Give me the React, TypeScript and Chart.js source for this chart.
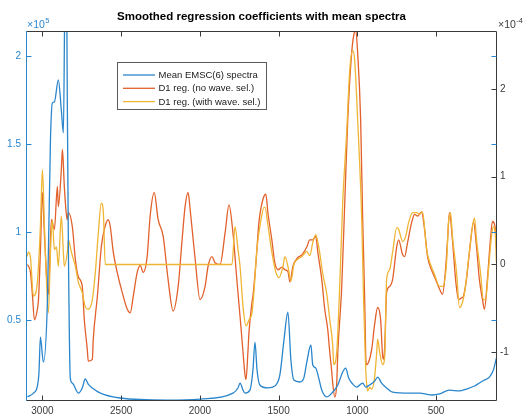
import React, { useEffect, useRef } from "react";
import { Chart, registerables } from "chart.js";

Chart.register(...registerables);

const TITLE = "Smoothed regression coefficients with mean spectra";
const LEGEND_LABELS = [
  "Mean EMSC(6) spectra",
  "D1 reg. (no wave. sel.)",
  "D1 reg. (with wave. sel.)",
];
const X_TICKS = [3000, 2500, 2000, 1500, 1000, 500];
const LEFT_TICKS = [0.5, 1, 1.5, 2];
const RIGHT_TICKS = [-1, 0, 1, 2];
const LEFT_EXP = "5";
const RIGHT_EXP = "-4";

// Mean spectrum (left axis, x10^5)
const meanWave = [3095, 3057, 3032, 3022, 3013, 2994, 2968, 2949, 2937, 2924, 2899, 2880, 2867, 2858, 2851, 2845, 2842, 2835, 2823, 2810, 2772, 2747, 2728, 2709, 2683, 2632, 2506, 2208, 1999, 1790, 1758, 1745, 1726, 1714, 1682, 1663, 1650, 1637, 1619, 1568, 1524, 1492, 1466, 1441, 1422, 1403, 1365, 1340, 1321, 1295, 1283, 1264, 1245, 1226, 1194, 1156, 1124, 1093, 1074, 1055, 1029, 1004, 966, 947, 922, 890, 871, 846, 814, 776, 668, 605, 523, 478, 415, 352, 307, 256, 225, 193, 161, 136, 117];
const meanVal = [0.063, 0.085, 0.125, 0.2, 0.403, 0.261, 0.614, 1.523, 1.733, 1.739, 1.864, 1.693, 1.563, 2.3, 2.6, 2.2, 1.75, 0.898, 0.17, 0.142, 0.085, 0.114, 0.165, 0.136, 0.114, 0.085, 0.057, 0.045, 0.051, 0.085, 0.114, 0.142, 0.102, 0.085, 0.102, 0.216, 0.375, 0.216, 0.131, 0.114, 0.125, 0.188, 0.386, 0.545, 0.273, 0.159, 0.148, 0.17, 0.261, 0.358, 0.244, 0.227, 0.17, 0.102, 0.063, 0.091, 0.131, 0.205, 0.227, 0.17, 0.136, 0.119, 0.142, 0.119, 0.131, 0.153, 0.176, 0.142, 0.114, 0.091, 0.085, 0.085, 0.074, 0.08, 0.102, 0.097, 0.108, 0.125, 0.142, 0.159, 0.176, 0.216, 0.284];

// D1 regression, no wavenumber selection (right axis, x10^-4)
const noSelWave = [3095, 3076, 3063, 3051, 3032, 3025, 3013, 3000, 2987, 2968, 2962, 2943, 2924, 2905, 2899, 2880, 2873, 2861, 2848, 2842, 2835, 2810, 2791, 2772, 2747, 2734, 2715, 2709, 2683, 2677, 2651, 2626, 2607, 2582, 2569, 2550, 2525, 2493, 2461, 2442, 2423, 2398, 2379, 2360, 2335, 2316, 2290, 2265, 2233, 2202, 2170, 2138, 2113, 2094, 2075, 2062, 2030, 1999, 1967, 1948, 1923, 1904, 1872, 1840, 1815, 1790, 1764, 1745, 1726, 1714, 1707, 1695, 1688, 1669, 1663, 1644, 1625, 1600, 1581, 1568, 1543, 1524, 1504, 1479, 1460, 1441, 1428, 1409, 1378, 1352, 1321, 1302, 1283, 1264, 1251, 1226, 1207, 1188, 1175, 1162, 1156, 1143, 1131, 1124, 1099, 1080, 1061, 1036, 1023, 1010, 998, 979, 966, 953, 947, 941, 928, 909, 890, 871, 852, 839, 833, 826, 814, 795, 776, 750, 738, 712, 700, 681, 655, 636, 617, 592, 573, 554, 529, 503, 478, 459, 440, 427, 415, 396, 376, 357, 338, 326, 307, 288, 262, 243, 225, 205, 193, 174, 155, 142, 123, 117];
const noSelVal = [0, -0.09, -0.36, -0.63, -0.51, -0.4, 0.14, 0.82, 0.32, -0.28, -0.34, 0.51, 0.4, 0.89, 0.66, 1.08, 1.31, 0.89, 0.57, 0.51, 0.59, 0.43, 0.06, -0.14, -0.25, -0.63, -0.97, -1.1, -1.08, -0.85, -0.36, 0.2, 0.4, 0.51, 0.43, 0.14, -0.09, -0.32, -0.51, -0.55, -0.36, -0.09, -0.01, -0.09, 0.09, 0.55, 0.82, 0.51, 0.32, -0.17, -0.53, -0.25, 0.28, 0.66, 0.82, 0.63, 0.06, -0.4, -0.25, -0.02, 0.09, 0.02, 0, 0.36, 0.68, 0.36, -0.2, -0.59, -1, -1.25, -1.31, -1, -0.77, -0.43, -0.36, 0.02, 0.48, 0.74, 0.8, 0.59, 0.28, 0.02, -0.06, -0.03, -0.06, -0.08, -0.2, -0.02, 0.08, 0.11, 0.2, 0.28, 0.28, 0.32, 0.14, -0.17, -0.51, -0.74, -1, -1.23, -1.36, -1.51, -1.36, -1, -0.25, 0.7, 1.65, 2.41, 2.61, 2.67, 2.41, 1.65, 0.51, -0.43, -1.02, -1.14, -1.11, -0.97, -0.68, -0.49, -0.63, -1.05, -1.08, -0.93, -0.32, -0.25, -0.17, 0.2, 0.28, 0.11, 0.09, 0.25, 0.48, 0.57, 0.55, 0.6, 0.4, 0.09, -0.06, -0.17, -0.28, -0.34, -0.06, 0.28, 0.59, 0.28, -0.17, -0.4, -0.38, -0.36, -0.17, 0.14, 0.48, 0.2, -0.17, -0.4, -0.51, -0.17, 0.28, 0.49, 0.4, 0.19];

// D1 regression, with wavenumber selection (right axis, x10^-4)
const selWave = [3098, 3089, 3076, 3057, 3032, 3013, 3000, 2987, 2962, 2949, 2937, 2924, 2911, 2899, 2880, 2867, 2861, 2842, 2835, 2816, 2791, 2772, 2747, 2728, 2709, 2683, 2664, 2645, 2626, 2613, 2601, 1796, 1777, 1758, 1745, 1726, 1707, 1688, 1669, 1657, 1638, 1612, 1593, 1587, 1568, 1543, 1517, 1498, 1473, 1460, 1441, 1422, 1403, 1378, 1352, 1321, 1302, 1283, 1264, 1245, 1219, 1194, 1175, 1156, 1150, 1131, 1112, 1093, 1067, 1048, 1029, 1017, 998, 972, 960, 947, 941, 934, 922, 909, 890, 877, 871, 858, 839, 826, 814, 795, 776, 750, 738, 712, 693, 674, 649, 624, 605, 586, 560, 535, 510, 478, 459, 434, 421, 408, 396, 370, 351, 332, 313, 294, 269, 256, 243, 218, 199, 186, 167, 148, 136, 123, 117];
const selVal = [0.09, 0.14, 0.08, -0.36, -0.2, 0.43, 1.08, 0.43, -0.55, 0.14, 0.51, 0.17, 0.2, -0.02, 0.55, 0.14, -0.02, 0.14, 0.28, 0.14, -0.02, -0.2, -0.32, -0.48, -0.51, -0.4, -0.09, 0.36, 0.7, 0.59, 0, 0, 0.43, 0.17, -0.02, -0.48, -0.7, -0.63, -0.55, -0.32, 0.17, 0.51, 0.65, 0.65, 0.45, 0.14, -0.09, -0.15, -0.03, 0.09, -0.02, -0.19, 0, 0.06, 0.09, 0.15, 0.1, 0.25, 0.34, 0.2, -0.11, -0.34, -0.63, -0.93, -1.14, -1, -0.25, 0.7, 1.53, 2.22, 2.44, 2.33, 1.65, 0.51, -0.43, -1.19, -1.36, -1.44, -1.4, -1.42, -1.28, -1, -0.85, -1, -1.14, -1.05, -0.17, -0.06, 0.14, 0.42, 0.4, 0.26, 0.32, 0.48, 0.59, 0.59, 0.57, 0.6, 0.17, 0, -0.11, -0.25, -0.25, 0, 0.48, 0.59, 0.32, -0.09, -0.49, -0.43, -0.25, 0.06, 0.43, 0.53, 0.28, -0.09, -0.4, -0.4, -0.06, 0.32, 0.43, 0.32, 0.03];

const FONT = "'Liberation Sans', Arial, Helvetica, sans-serif";
const BLUE = "#2a86cc";
const RED = "#e2602b";
const YELLOW = "#efb534";
const AXIS_GRAY = "#3a3a3a";
const TICK_LEN = 5;

const toPoints = (xs: number[], ys: number[]) => xs.map((x, i) => ({ x, y: ys[i] }));

const decorPlugin = {
  id: "decor",
  afterDatasetsDraw(chart: any) {
    const { ctx, chartArea: ca, scales } = chart;
    const sx = scales.x;
    const yl = scales.yL;
    const yr = scales.yR;
    ctx.save();
    ctx.lineWidth = 1;
    const L = Math.round(ca.left) - 0.5;
    const R = Math.round(ca.right) - 0.5;
    const T = Math.round(ca.top) + 0.5;
    const B = Math.round(ca.bottom) - 0.5;

    // axes box
    ctx.strokeStyle = AXIS_GRAY;
    ctx.beginPath();
    ctx.moveTo(L, T);
    ctx.lineTo(R, T);
    ctx.lineTo(R, B);
    ctx.lineTo(L, B);
    ctx.stroke();
    ctx.strokeStyle = BLUE;
    ctx.beginPath();
    ctx.moveTo(L, T - 0.5);
    ctx.lineTo(L, B + 0.5);
    ctx.stroke();

    // x ticks (bottom and top, inward)
    ctx.strokeStyle = AXIS_GRAY;
    ctx.beginPath();
    X_TICKS.forEach((v) => {
      const px = Math.round(sx.getPixelForValue(v)) + 0.5;
      ctx.moveTo(px, B);
      ctx.lineTo(px, B - TICK_LEN);
      ctx.moveTo(px, T);
      ctx.lineTo(px, T + TICK_LEN);
    });
    ctx.stroke();

    // left ticks (blue) on left side and mirrored on right side
    ctx.strokeStyle = BLUE;
    ctx.beginPath();
    LEFT_TICKS.forEach((v) => {
      const py = Math.round(yl.getPixelForValue(v)) + 0.5;
      ctx.moveTo(L, py);
      ctx.lineTo(L + TICK_LEN, py);
      ctx.moveTo(R, py);
      ctx.lineTo(R - TICK_LEN, py);
    });
    ctx.stroke();

    // right ticks (gray)
    ctx.strokeStyle = AXIS_GRAY;
    ctx.beginPath();
    RIGHT_TICKS.forEach((v) => {
      const py = Math.round(yr.getPixelForValue(v)) + 0.5;
      ctx.moveTo(R, py);
      ctx.lineTo(R - TICK_LEN, py);
    });
    ctx.stroke();

    // exponent labels
    ctx.textBaseline = "alphabetic";
    ctx.textAlign = "left";
    ctx.fillStyle = BLUE;
    ctx.font = `10.5px ${FONT}`;
    ctx.fillText("\u00d710", ca.left, ca.top - 3.5);
    let w = ctx.measureText("\u00d710").width;
    ctx.font = `7.5px ${FONT}`;
    ctx.fillText(LEFT_EXP, ca.left + w + 0.5, ca.top - 8);

    ctx.fillStyle = AXIS_GRAY;
    ctx.font = `10.5px ${FONT}`;
    ctx.fillText("\u00d710", ca.right + 1, ca.top - 3.5);
    w = ctx.measureText("\u00d710").width;
    ctx.font = `7.5px ${FONT}`;
    ctx.fillText(RIGHT_EXP, ca.right + 1 + w + 0.5, ca.top - 8);

    // legend
    const lx = 117.5;
    const ly = 62.5;
    const lw = 149;
    const lh = 47;
    ctx.fillStyle = "#ffffff";
    ctx.fillRect(lx, ly, lw, lh);
    ctx.lineWidth = 1;
    ctx.strokeStyle = "#5a5a5a";
    ctx.strokeRect(lx, ly, lw, lh);
    const colors = [BLUE, RED, YELLOW];
    ctx.font = `9.5px ${FONT}`;
    ctx.textBaseline = "middle";
    LEGEND_LABELS.forEach((label, i) => {
      const y = 75 + i * 13.3;
      ctx.strokeStyle = colors[i];
      ctx.lineWidth = 1.3;
      ctx.beginPath();
      ctx.moveTo(123, y);
      ctx.lineTo(155, y);
      ctx.stroke();
      ctx.fillStyle = "#1a1a1a";
      ctx.fillText(label, 158.5, y + 0.5);
    });
    ctx.restore();
  },
};

export default function App() {
  const canvasRef = useRef<HTMLCanvasElement | null>(null);

  useEffect(() => {
    const canvas = canvasRef.current;
    if (!canvas) return;
    const chart = new Chart(canvas, {
      type: "line",
      data: {
        datasets: [
          {
            label: LEGEND_LABELS[0],
            data: toPoints(meanWave, meanVal),
            borderColor: BLUE,
            borderWidth: 1.3,
            pointRadius: 0,
            cubicInterpolationMode: "monotone",
            yAxisID: "yL",
            order: 0,
          },
          {
            label: LEGEND_LABELS[1],
            data: toPoints(noSelWave, noSelVal),
            borderColor: RED,
            borderWidth: 1.3,
            pointRadius: 0,
            cubicInterpolationMode: "monotone",
            yAxisID: "yR",
            order: 2,
          },
          {
            label: LEGEND_LABELS[2],
            data: toPoints(selWave, selVal),
            borderColor: YELLOW,
            borderWidth: 1.3,
            pointRadius: 0,
            cubicInterpolationMode: "monotone",
            yAxisID: "yR",
            order: 1,
          },
        ],
      },
      options: {
        responsive: false,
        animation: false,
        devicePixelRatio: 1,
        layout: { padding: 0 },
        plugins: {
          legend: { display: false },
          tooltip: { enabled: false },
          title: {
            display: true,
            text: TITLE,
            color: "#000000",
            font: { family: FONT, size: 11.5, weight: "bold" },
            padding: { top: 9.6, bottom: 7.6 },
          },
        },
        scales: {
          x: {
            type: "linear",
            reverse: true,
            min: 113,
            max: 3098,
            grid: { display: false, drawTicks: false, tickLength: 0 },
            border: { display: false },
            afterBuildTicks: (s: any) => {
              s.ticks = X_TICKS.map((value) => ({ value }));
            },
            afterFit: (s: any) => {
              s.height = 15;
            },
            ticks: {
              color: AXIS_GRAY,
              font: { family: FONT, size: 10 },
              padding: 4.5,
              maxRotation: 0,
              autoSkip: false,
              callback: (v: any) => String(v),
            },
          },
          yL: {
            type: "linear",
            position: "left",
            min: 0.04,
            max: 2.142,
            grid: { display: false, drawTicks: false, tickLength: 0 },
            border: { display: false },
            afterBuildTicks: (s: any) => {
              s.ticks = LEFT_TICKS.map((value) => ({ value }));
            },
            afterFit: (s: any) => {
              s.width = 27;
            },
            ticks: {
              color: BLUE,
              font: { family: FONT, size: 10 },
              padding: 6,
              callback: (v: any) => String(v),
            },
          },
          yR: {
            type: "linear",
            position: "right",
            min: -1.555,
            max: 2.66,
            grid: { display: false, drawTicks: false, tickLength: 0 },
            border: { display: false },
            afterBuildTicks: (s: any) => {
              s.ticks = RIGHT_TICKS.map((value) => ({ value }));
            },
            afterFit: (s: any) => {
              s.width = 26;
            },
            ticks: {
              color: AXIS_GRAY,
              font: { family: FONT, size: 10 },
              padding: 3,
              callback: (v: any) => String(v),
            },
          },
        },
      },
      plugins: [decorPlugin],
    } as any);
    return () => chart.destroy();
  }, []);

  return (
    <div style={{ position: "absolute", left: 0, top: 0, width: 523, height: 416, background: "#ffffff" }}>
      <canvas ref={canvasRef} width={523} height={416} style={{ width: 523, height: 416, display: "block" }} />
    </div>
  );
}
